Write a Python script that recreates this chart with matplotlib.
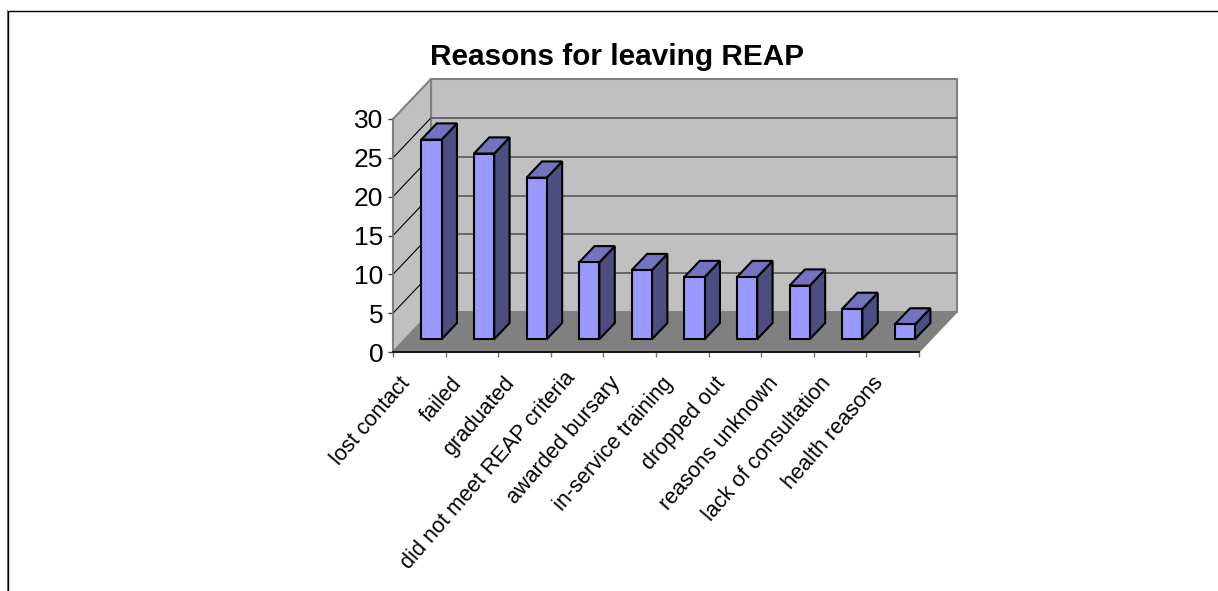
"""
Bar chart with a drawn 3D box: reasons students gave for leaving REAP.
"""
from matplotlib import pyplot as plt
from matplotlib.patches import Polygon
from matplotlib.lines import Line2D
import numpy as np

plt.rcParams['font.family'] = ['Liberation Sans', 'DejaVu Sans']

reasons = ['lost contact', 'failed', 'graduated', 'did not meet REAP criteria',
           'awarded bursary', 'in-service training', 'dropped out',
           'reasons unknown', 'lack of consultation', 'health reasons']
counts = [25.7, 23.9, 20.8, 9.9, 8.9, 8, 8, 6.9, 3.9, 1.9]
y_ticks = [0, 5, 10, 15, 20, 25, 30]

W, H = 1218, 591
# front plane of the box in pixels
LEFT, RIGHT, BOTTOM, TOP = 393, 919, 352, 119
# how far the back plane is shifted, in data units
DX = 38 / ((RIGHT - LEFT) / 10)
DY = 40 / ((BOTTOM - TOP) / 30)
# where a bar sits between the front (0) and back (1) planes
D0, D1 = 0.32, 0.725
BAR_W = 0.385

fig = plt.figure(figsize=(W / 100, H / 100), dpi=100)
ax = fig.add_axes([LEFT / W, 1 - BOTTOM / H, (RIGHT - LEFT) / W, (BOTTOM - TOP) / H])
ax.set_xlim(0, 10)
ax.set_ylim(0, 30)
ax.patch.set_visible(False)


def proj(x, y, d):
    """Data position of point (x, y) at depth d."""
    return x + d * DX, y + d * DY


def quad(pts, fc, ec, lw, z):
    ax.add_patch(Polygon(pts, closed=True, fc=fc, ec=ec, lw=lw, zorder=z,
                         clip_on=False, joinstyle='miter'))


# walls and floor
quad([proj(0, 0, 1), proj(10, 0, 1), proj(10, 30, 1), proj(0, 30, 1)], '#c0c0c0', '#808080', 1.5, 1)
quad([proj(0, 0, 0), proj(0, 0, 1), proj(0, 30, 1), proj(0, 30, 0)], '#c0c0c0', '#808080', 1.5, 1)
quad([proj(0, 0, 0), proj(10, 0, 0), proj(10, 0, 1), proj(0, 0, 1)], '#808080', '#808080', 1, 1)

# gridlines run along the side wall and across the back wall
for t in y_ticks[1:-1]:
    xs, ys = zip(proj(0, t, 0), proj(0, t, 1), proj(10, t, 1))
    ax.add_line(Line2D(xs[:2], ys[:2], color='black', lw=0.8, zorder=2, clip_on=False))
    ax.add_line(Line2D(xs[1:], ys[1:], color='#606060', lw=1.3, zorder=2, clip_on=False))

# bars: front faces from ax.bar, side and top faces as polygons
centers = np.arange(len(counts)) + 0.5
dx0, dy0 = proj(0, 0, D0)
ax.bar(centers + dx0, counts, width=BAR_W, bottom=dy0, color='#9999ff', edgecolor='black',
       linewidth=1.5, zorder=5, clip_on=False)
for c, v in zip(centers, counts):
    x0, x1 = c - BAR_W / 2, c + BAR_W / 2
    quad([proj(x1, 0, D0), proj(x1, 0, D1), proj(x1, v, D1), proj(x1, v, D0)], '#4d4d80', 'black', 1.5, 4)
    quad([proj(x0, v, D0), proj(x1, v, D0), proj(x1, v, D1), proj(x0, v, D1)], '#7373bf', 'black', 1.5, 4)

ax.set_xticks(np.arange(0, 11))
ax.set_xticklabels([''] * 11)
ax.set_yticks(y_ticks)
ax.tick_params(axis='y', labelsize=19, length=3.6, width=1, pad=3.4, color='#404040', labelcolor='black')
ax.tick_params(axis='x', length=3.6, width=1, color='#707070')
for s in ['top', 'right']:
    ax.spines[s].set_visible(False)
ax.spines['left'].set_color('#808080')
ax.spines['left'].set_linewidth(1.2)
ax.spines['bottom'].set_color('black')
ax.spines['bottom'].set_linewidth(1.2)
ax.spines['left'].set_zorder(3)
ax.spines['bottom'].set_zorder(3)

# category labels end just left of each slot centre; the long one sits closer in
for c, name in zip(centers, reasons):
    off = (-5, -23) if name == 'did not meet REAP criteria' else (-13, -28)
    ax.annotate(name, xy=(c, 0), xycoords='data', xytext=off, textcoords='offset pixels',
                rotation=49, rotation_mode='anchor', ha='right', va='center', fontsize=15.6)

fig.text(617.5 / W, 1 - 57 / H, 'Reasons for leaving REAP', fontsize=21.4, fontweight='bold',
         ha='center', va='center')

# page frame: left rule is doubled, top rule runs off the right edge
fig.add_artist(Line2D([6.5 / W, 6.5 / W], [0, 1 - 10 / H], color='#808080', lw=0.8))
fig.add_artist(Line2D([7.5 / W, 7.5 / W, 1], [0, 1 - 10.5 / H, 1 - 10.5 / H], color='black', lw=1))

fig.savefig('out.png', dpi=100)
